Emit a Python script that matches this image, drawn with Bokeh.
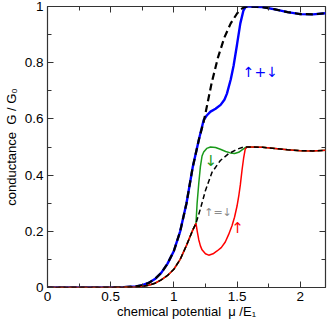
from bokeh.plotting import figure
from bokeh.models import Range1d, FixedTicker, LinearAxis, ColumnDataSource
from bokeh.core.properties import value
from bokeh.embed import file_html
from bokeh.resources import INLINE

# ---- data ----
# total conductance, no spin splitting (black dashed, upper)
mu_total = [0.0, 0.5, 0.6, 0.7, 0.75, 0.8, 0.85, 0.9, 0.95, 1.0, 1.05, 1.1, 1.15, 1.2,
            1.236, 1.25, 1.3, 1.35, 1.4, 1.45, 1.5, 1.53, 1.56, 1.6, 1.7, 1.8, 1.9, 2.0, 2.1, 2.2]
g_total = [0.0, 0.0, 0.001, 0.004, 0.008, 0.016, 0.03, 0.052, 0.085, 0.13, 0.2, 0.3, 0.43, 0.53,
           0.59, 0.62, 0.73, 0.82, 0.89, 0.94, 0.975, 0.99, 0.998, 1.0, 0.998, 0.99, 0.98, 0.973, 0.972, 0.976]

# up + down (blue)
mu_sum = [0.0, 0.5, 0.6, 0.7, 0.75, 0.8, 0.85, 0.9, 0.95, 1.0, 1.05, 1.1, 1.15, 1.2,
          1.236, 1.26, 1.29, 1.33, 1.37, 1.4, 1.42, 1.45, 1.473, 1.5, 1.526, 1.55, 1.57,
          1.6, 1.7, 1.8, 1.9, 2.0, 2.1, 2.2]
g_sum = [0.0, 0.0, 0.001, 0.004, 0.008, 0.016, 0.03, 0.052, 0.085, 0.13, 0.2, 0.3, 0.43, 0.53,
         0.596, 0.612, 0.626, 0.636, 0.65, 0.668, 0.69, 0.74, 0.79, 0.865, 0.94, 0.985, 1.0,
         1.0, 0.998, 0.99, 0.98, 0.973, 0.972, 0.976]

# spin down (green)
mu_down = [0.0, 0.5, 0.6, 0.7, 0.75, 0.8, 0.85, 0.9, 0.95, 1.0, 1.05, 1.1, 1.15, 1.175,
           1.184, 1.197, 1.21, 1.223, 1.236, 1.26, 1.29, 1.33, 1.368, 1.41, 1.447, 1.48,
           1.513, 1.54, 1.565, 1.6, 1.7, 1.8, 1.9, 2.0, 2.1, 2.2]
g_down = [0.0, 0.0, 0.0005, 0.002, 0.004, 0.008, 0.015, 0.027, 0.043, 0.065, 0.1, 0.15, 0.205, 0.228,
          0.3, 0.37, 0.43, 0.468, 0.482, 0.495, 0.5, 0.498, 0.492, 0.484, 0.479, 0.477,
          0.481, 0.49, 0.498, 0.5, 0.499, 0.495, 0.49, 0.487, 0.486, 0.488]

# spin up (red)
mu_up = [0.0, 0.5, 0.6, 0.7, 0.75, 0.8, 0.85, 0.9, 0.95, 1.0, 1.05, 1.1, 1.15, 1.175,
         1.185, 1.197, 1.21, 1.223, 1.25, 1.276, 1.31, 1.342, 1.375, 1.407, 1.433, 1.46,
         1.48, 1.5, 1.515, 1.526, 1.54, 1.552, 1.565, 1.58, 1.6, 1.7, 1.8, 1.9, 2.0, 2.1, 2.2]
g_up = [0.0, 0.0, 0.0005, 0.002, 0.004, 0.008, 0.015, 0.027, 0.043, 0.065, 0.1, 0.15, 0.205, 0.228,
        0.2, 0.17, 0.148, 0.134, 0.12, 0.115, 0.12, 0.13, 0.142, 0.162, 0.188, 0.22,
        0.25, 0.29, 0.33, 0.365, 0.42, 0.46, 0.493, 0.5, 0.5, 0.499, 0.495, 0.49, 0.487, 0.486, 0.488]

# up = down (black dashed, lower)
mu_equal = [0.0, 0.5, 0.6, 0.7, 0.75, 0.8, 0.85, 0.9, 0.95, 1.0, 1.05, 1.1, 1.15, 1.175,
            1.21, 1.25, 1.302, 1.368, 1.433, 1.5, 1.552, 1.6, 1.7, 1.8, 1.9, 2.0, 2.1, 2.2]
g_equal = [0.0, 0.0, 0.0005, 0.002, 0.004, 0.008, 0.015, 0.027, 0.043, 0.065, 0.1, 0.15, 0.205, 0.228,
           0.28, 0.345, 0.41, 0.452, 0.476, 0.492, 0.5, 0.5, 0.499, 0.495, 0.49, 0.487, 0.486, 0.488]

# tick labels
x_ticks = [0, 0.5, 1, 1.5, 2]
x_tick_labels = ["0", "0.5", "1", "1.5", "2"]
x_minor = [0.25, 0.75, 1.25, 1.75, 2.25]
y_ticks = [0, 0.2, 0.4, 0.6, 0.8, 1]
y_tick_labels = ["0", "0.2", "0.4", "0.6", "0.8", "1"]
y_minor = [0.1, 0.3, 0.5, 0.7, 0.9]

# annotations
ann_text = ["\u2191+\u2193", "\u2193", "\u2191=\u2193", "\u2191"]
ann_x = [1.545, 1.243, 1.24, 1.455]
ann_y = [0.766, 0.45, 0.268, 0.211]
ann_color = ["#0000ff", "#1a9a1a", "#8c8c8c", "#ff0000"]
ann_size = ["14px", "15px", "11px", "15px"]

FONT = "Liberation Sans"
NBSP = "\u00a0"

p = figure(width=327, height=321, output_backend="svg", toolbar_location=None,
           x_range=Range1d(0, 2.2), y_range=Range1d(0, 1),
           min_border_left=0, min_border_right=2, min_border_top=6, min_border_bottom=0)
p.grid.visible = False
p.outline_line_color = "#333333"
p.outline_line_width = 1.2

def style_axis(ax, ticks, labels, minor, show):
    ax.ticker = FixedTicker(ticks=ticks, minor_ticks=minor)
    ax.major_label_overrides = dict(zip(ticks, labels))
    ax.major_tick_in = 6
    ax.major_tick_out = 0
    ax.minor_tick_in = 4
    ax.minor_tick_out = 0
    ax.major_tick_line_color = "#333333"
    ax.minor_tick_line_color = "#333333"
    ax.axis_line_color = None
    ax.major_label_text_font = FONT
    ax.axis_label_text_font = FONT
    ax.axis_label_text_font_style = "normal"
    ax.axis_label_text_font_size = "13px"
    ax.axis_label_text_color = "black"
    if show:
        ax.major_label_text_color = "black"
        ax.major_label_text_font_size = "13.5px"
        ax.major_label_standoff = 4
    else:
        ax.major_label_text_color = None
        ax.major_label_text_font_size = "1px"
        ax.major_label_standoff = 0

style_axis(p.xaxis[0], x_ticks, x_tick_labels, x_minor, True)
style_axis(p.yaxis[0], y_ticks, y_tick_labels, y_minor, True)
p.xaxis[0].axis_label = "chemical potential" + NBSP + NBSP + "\u03bc /E\u2081"
p.xaxis[0].axis_label_standoff = 0
p.yaxis[0].axis_label = "conductance" + NBSP + NBSP + "G / G\u2080"
p.yaxis[0].axis_label_standoff = 3

top_ax = LinearAxis()
right_ax = LinearAxis()
style_axis(top_ax, x_ticks, x_tick_labels, x_minor, False)
style_axis(right_ax, y_ticks, y_tick_labels, y_minor, False)
p.add_layout(top_ax, "above")
p.add_layout(right_ax, "right")

# curves
p.line(mu_sum, g_sum, line_color="#0000ff", line_width=2.4)
p.line(mu_total, g_total, line_color="black", line_width=2.2, line_dash="7 4")
p.line(mu_down, g_down, line_color="#1a9a1a", line_width=1.5)
p.line(mu_up, g_up, line_color="#ff0000", line_width=1.5)
p.line(mu_equal, g_equal, line_color="black", line_width=1.5, line_dash="5 3")

src = ColumnDataSource(dict(x=ann_x, y=ann_y, text=ann_text, color=ann_color, size=ann_size))
p.text(x="x", y="y", text="text", text_color="color", text_font_size="size",
       text_font=value("DejaVu Sans"), text_baseline="middle", text_align="left", source=src)

open("out.html", "w").write(file_html(p, INLINE))
